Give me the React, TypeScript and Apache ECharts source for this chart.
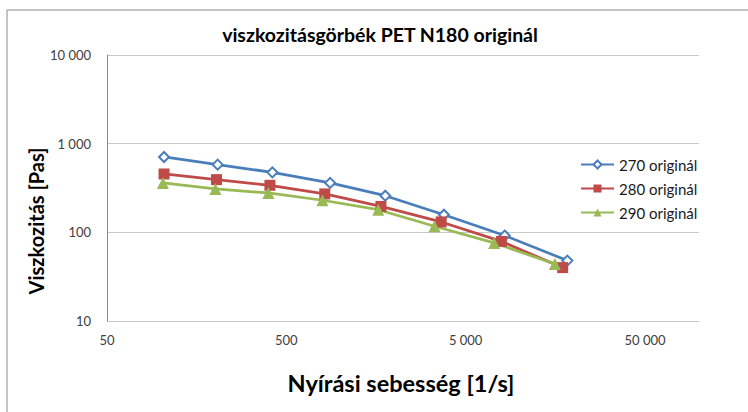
import React, { useEffect, useRef } from 'react';
import * as echarts from 'echarts';

const chartTitle = 'viszkozitásgörbék PET N180 originál';
const xTitle = 'Nyírási sebesség [1/s]';
const yTitle = 'Viszkozitás [Pas]';
const seriesNames = ['270 originál', '280 originál', '290 originál'];

const shear270 = [104, 207, 418, 877, 1781, 3781, 8253, 18447];
const visc270 = [708, 580, 475, 361, 259, 158, 92, 48];
const shear280 = [104, 204, 405, 819, 1685, 3651, 7912, 17364];
const visc280 = [455, 393, 339, 271, 196, 131, 79, 40];
const shear290 = [102.5, 201, 397, 795, 1627, 3350, 7202, 15721];
const visc290 = [361, 309, 278, 230, 180, 117, 76, 44];

const xTicks = [50, 500, 5000, 50000];
const xMin = 50;
const xMax = 100000;
const yMin = 10;
const yMax = 10000;

const colors = ['#4A7EBB', '#BE4B48', '#98B954'];
const symbols = ['emptyDiamond', 'rect', 'triangle'];
const symbolSizes = [10, 11, 12];

const FONT = 'Lato, "Open Sans", sans-serif';

const fmt = (v: number) =>
  Math.round(v)
    .toString()
    .replace(/\B(?=(\d{3})+(?!\d))/g, ' ');

const pairs = (xs: number[], ys: number[]) => xs.map((x, i) => [x, ys[i]]);

export default function App() {
  const ref = useRef<HTMLDivElement>(null);

  useEffect(() => {
    if (!ref.current) return;
    const chart = echarts.init(ref.current, undefined, { renderer: 'svg' });
    const data = [pairs(shear270, visc270), pairs(shear280, visc280), pairs(shear290, visc290)];
    chart.setOption({
      animation: false,
      backgroundColor: '#ffffff',
      textStyle: { fontFamily: FONT },
      grid: { left: 107, right: 49, top: 55, bottom: 91, containLabel: false },
      legend: {
        orient: 'vertical',
        left: 575,
        top: 152,
        itemWidth: 33,
        itemHeight: 10,
        itemGap: 9,
        textStyle: { fontFamily: FONT, fontSize: 15, lineHeight: 14.5, color: '#1a1a1a' },
        data: seriesNames,
      },
      xAxis: {
        type: 'log',
        logBase: 10,
        min: xMin,
        max: xMax,
        axisLine: { show: false },
        axisTick: { show: false },
        splitLine: { show: false },
        axisLabel: {
          customValues: xTicks,
          formatter: fmt,
          margin: 12,
          fontFamily: FONT,
          fontSize: 13,
          color: '#404040',
        },
      },
      yAxis: {
        type: 'log',
        logBase: 10,
        min: yMin,
        max: yMax,
        axisLine: { show: true, lineStyle: { color: '#8c8c8c', width: 1 } },
        axisTick: { show: false },
        splitLine: { show: true, lineStyle: { color: '#c8c8c8', width: 1.2 } },
        axisLabel: {
          formatter: fmt,
          margin: 16,
          fontFamily: FONT,
          fontSize: 13,
          color: '#404040',
        },
      },
      graphic: [
        {
          type: 'rect',
          z: -1,
          shape: { x: 7, y: 10, width: 800, height: 500 },
          style: { fill: 'none', stroke: '#8a8a8a', lineWidth: 1 },
        },
        {
          type: 'text',
          x: 380,
          y: 34,
          style: {
            text: chartTitle,
            align: 'center',
            verticalAlign: 'middle',
            font: `bold 19.5px ${FONT}`,
            fill: '#000',
          },
        },
        {
          type: 'text',
          x: 401,
          y: 383,
          style: {
            text: xTitle,
            align: 'center',
            verticalAlign: 'middle',
            font: `bold 23.5px ${FONT}`,
            fill: '#000',
          },
        },
        {
          type: 'text',
          x: 36,
          y: 221,
          rotation: Math.PI / 2,
          style: {
            text: yTitle,
            align: 'center',
            verticalAlign: 'middle',
            font: `bold 20px ${FONT}`,
            fill: '#000',
          },
        },
      ],
      series: seriesNames.map((name, i) => ({
        name,
        type: 'line',
        data: data[i],
        symbol: symbols[i],
        symbolSize: symbolSizes[i],
        showAllSymbol: true,
        lineStyle: { color: colors[i], width: 2.75 },
        itemStyle: { color: colors[i], borderColor: colors[i], borderWidth: i === 0 ? 1.3 : 0 },
        emphasis: { disabled: true },
      })),
    });
    return () => chart.dispose();
  }, []);

  return (
    <div
      ref={ref}
      style={{ position: 'absolute', left: 0, top: 0, width: 748, height: 412 }}
    />
  );
}
